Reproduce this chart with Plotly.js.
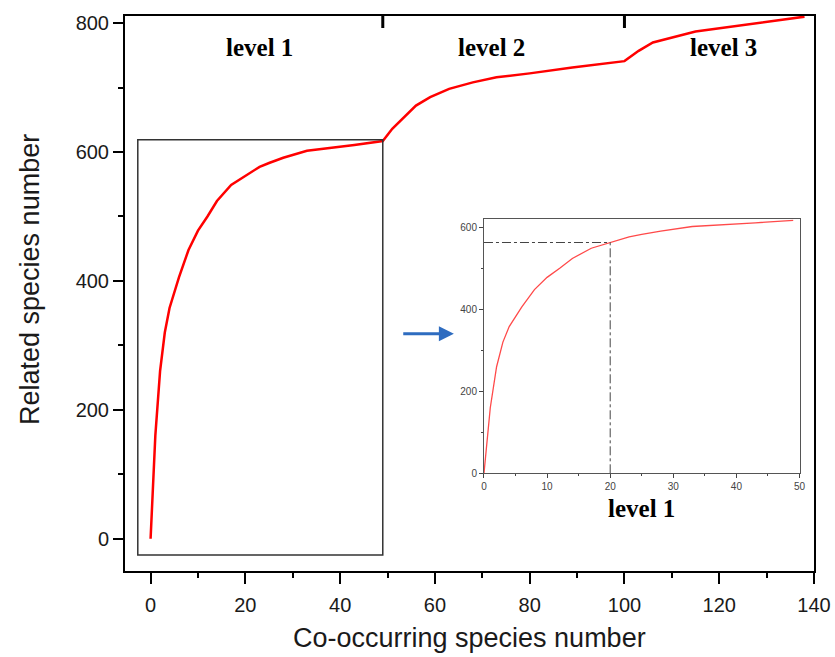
<!DOCTYPE html>
<html>
<head>
<meta charset="utf-8">
<script src="https://cdn.plot.ly/plotly-3.0.1.min.js"></script>
<style>
  html, body { margin: 0; padding: 0; background: #ffffff; }
  #chart { width: 835px; height: 657px; }
</style>
</head>
<body>
<div id="chart"></div>
<script>
// Co-occurring species number (x) vs related species number (y)
const coSpecies = [0, 1, 2, 3, 4, 6, 8, 10, 12, 14, 17, 20, 23, 25, 28, 33, 38, 43, 49,
                   51, 56, 59, 63, 68, 73, 80, 89, 100, 103, 106, 115, 127, 138];
const relatedSpecies = [0, 160, 260, 320, 358, 406, 448, 478, 500, 524, 549, 563, 577, 583, 591, 602, 606, 611, 617,
                        636, 672, 685, 698, 708, 716, 722, 731, 741, 757, 770, 787, 799, 810];

// Level boundaries and labels
const levelBounds = [49, 100];
const levelNames = ['level 1', 'level 2', 'level 3'];
const levelLabelX = [23, 72, 121];

// Zoomed inset: first level and its reference point
const insetMaxX = 49;
const refPoint = [20, 563];

// Highlight box around level 1 in main plot [x0, x1, y0, y1]
const boxExtent = [-2.7, 49, -25, 619];

const insetX = coSpecies.filter(v => v <= insetMaxX);
const insetY = relatedSpecies.slice(0, insetX.length);

const traces = [
  {
    x: coSpecies, y: relatedSpecies, type: 'scatter', mode: 'lines',
    line: { color: '#ff0000', width: 2.5 }, xaxis: 'x', yaxis: 'y', hoverinfo: 'skip'
  },
  {
    x: insetX, y: insetY, type: 'scatter', mode: 'lines',
    line: { color: '#ff4a4a', width: 1.3 }, xaxis: 'x2', yaxis: 'y2', hoverinfo: 'skip'
  }
];

const tickFontMain = { family: 'Liberation Sans, Arial, sans-serif', size: 20, color: '#1a1a1a' };
const tickFontInset = { family: 'Liberation Sans, Arial, sans-serif', size: 10, color: '#444444' };
const levelFont = { family: 'Liberation Serif, Times New Roman, serif', size: 25, color: '#000000' };

const shapes = [];
levelBounds.forEach(b => {
  shapes.push({ type: 'line', xref: 'x', yref: 'paper', x0: b, x1: b, y0: 1, y1: 1 - 12 / 555,
                line: { color: '#000', width: 3 } });
});
shapes.push({ type: 'rect', xref: 'x', yref: 'y', x0: boxExtent[0], x1: boxExtent[1], y0: boxExtent[2], y1: boxExtent[3],
              line: { color: '#333333', width: 1.5 }, fillcolor: 'rgba(0,0,0,0)' });
shapes.push({ type: 'line', xref: 'x2', yref: 'y2', x0: 0, x1: refPoint[0], y0: refPoint[1], y1: refPoint[1],
              line: { color: '#444', width: 1, dash: 'dashdot' } });
shapes.push({ type: 'line', xref: 'x2', yref: 'y2', x0: refPoint[0], x1: refPoint[0], y0: 0, y1: refPoint[1],
              line: { color: '#444', width: 1, dash: 'dashdot' } });

const annotations = levelNames.map((t, i) => ({
  text: '<b>' + t + '</b>', xref: 'x', yref: 'paper', x: levelLabelX[i], y: 1 - 32 / 555,
  yanchor: 'middle', xanchor: 'center', showarrow: false, font: levelFont
}));
annotations.push({
  text: '<b>level 1</b>', xref: 'x2', yref: 'paper', x: 25, y: (571 - 508) / 555,
  yanchor: 'middle', xanchor: 'center', showarrow: false, font: levelFont
});
annotations.push({
  text: '', xref: 'x', yref: 'y', axref: 'x', ayref: 'y',
  x: 64, y: 318, ax: 53, ay: 318, showarrow: true,
  arrowhead: 2, arrowsize: 1, arrowwidth: 3, arrowcolor: '#2e6cc0'
});
annotations.push({
  text: 'Related species number', xref: 'paper', yref: 'paper', x: -125 / 689 + 30 / 689, y: (571 - 280) / 555,
  textangle: -90, showarrow: false, xanchor: 'center', yanchor: 'middle',
  font: { family: 'Liberation Sans, Arial, sans-serif', size: 27, color: '#1a1a1a' }
});
annotations.push({
  text: 'Co-occurring species number', xref: 'paper', yref: 'paper', x: 0.5, y: -(638 - 571) / 555,
  showarrow: false, xanchor: 'center', yanchor: 'middle',
  font: { family: 'Liberation Sans, Arial, sans-serif', size: 27, color: '#1a1a1a' }
});

const layout = {
  width: 835, height: 657,
  margin: { l: 125, r: 21, t: 16, b: 86 },
  paper_bgcolor: '#ffffff', plot_bgcolor: 'rgba(0,0,0,0)',
  showlegend: false,
  xaxis: {
    range: [-5.4, 140], tick0: 0, dtick: 20, ticks: 'outside', ticklen: 11, tickwidth: 2, tickcolor: '#000',
    minor: { dtick: 10, ticks: 'outside', ticklen: 5, tickwidth: 2, tickcolor: '#000' },
    showline: true, linewidth: 2, linecolor: '#000', mirror: true,
    showgrid: false, zeroline: false, tickfont: tickFontMain, ticklabelstandoff: 4
  },
  yaxis: {
    range: [-50, 811], tick0: 0, dtick: 200, ticks: 'outside', ticklen: 10, tickwidth: 2, tickcolor: '#000',
    minor: { dtick: 100, ticks: 'outside', ticklen: 5, tickwidth: 2, tickcolor: '#000' },
    showline: true, linewidth: 2, linecolor: '#000', mirror: true,
    showgrid: false, zeroline: false, tickfont: tickFontMain
  },
  xaxis2: {
    domain: [0.521, 0.979], anchor: 'y2', range: [0, 50], tick0: 0, dtick: 10,
    ticks: 'outside', ticklen: 4, tickwidth: 1, tickcolor: '#444',
    minor: { dtick: 5, ticks: 'outside', ticklen: 2, tickwidth: 1, tickcolor: '#444' },
    showline: true, linewidth: 1, linecolor: '#555', mirror: true,
    showgrid: false, zeroline: false, tickfont: tickFontInset
  },
  yaxis2: {
    domain: [0.176, 0.634], anchor: 'x2', range: [0, 620], tick0: 0, dtick: 200,
    ticks: 'outside', ticklen: 4, tickwidth: 1, tickcolor: '#444',
    minor: { dtick: 100, ticks: 'outside', ticklen: 2, tickwidth: 1, tickcolor: '#444' },
    showline: true, linewidth: 1, linecolor: '#555', mirror: true,
    showgrid: false, zeroline: false, tickfont: tickFontInset
  },
  shapes: shapes,
  annotations: annotations
};

Plotly.newPlot('chart', traces, layout, { displayModeBar: false, staticPlot: true });
</script>
</body>
</html>
